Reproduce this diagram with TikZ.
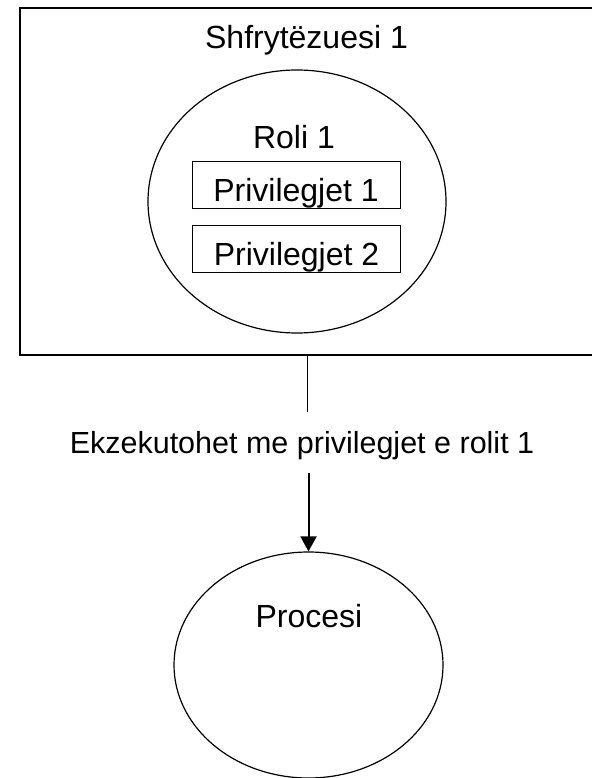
\documentclass[tikz,border=0pt]{standalone}
\usepackage{fontspec}
\setmainfont{Liberation Sans}
\usetikzlibrary{shapes.geometric,arrows.meta}

\begin{document}
\begin{tikzpicture}[x=1pt,y=-1pt,
  lbl/.style={font=\fontsize{32}{38}\selectfont, inner sep=0pt, anchor=base},
  privbox/.style={draw, line width=1pt, inner sep=0pt, anchor=north,
    minimum width=208pt, text height=40pt, text depth=7pt,
    font=\fontsize{32}{38}\selectfont},
  oval/.style={draw, ellipse, line width=1.2pt, inner sep=0pt},
  conn/.style={line width=1pt},
  arr/.style={line width=2pt, -{Triangle[width=16pt,length=15pt]}}]
  \useasboundingbox (0,0) rectangle (591,778);

  % user frame (right side runs past the page edge)
  \node[draw, line width=2pt, minimum width=575pt, minimum height=347pt,
        inner sep=0pt] (user) at (307.5,181.5) {};
  \node[lbl] (usertitle) at (306.5,49) {Shfrytëzuesi 1};

  % role with its privileges
  \node[oval, minimum width=298pt, minimum height=263pt] (role) at (297,201.5) {};
  \node[lbl] (roletitle) at (294,149) {Roli 1};
  \node[privbox] (priv1) at (296,161) {Privilegjet 1};
  \node[privbox] (priv2) at (296.5,225) {Privilegjet 2};

  % execution label between user and process
  \node[font=\fontsize{30.5}{36}\selectfont, inner sep=0pt,
        text height=41pt, text depth=20pt] (exec) at (302,442.7)
        {Ekzekutohet me privilegjet e rolit 1};

  % process
  \node[oval, minimum width=269pt, minimum height=226pt] (proc) at (308.5,665) {};
  \node[lbl] (proctitle) at (309,627) {Procesi};

  % connectors
  \draw[conn] (user.south) -- (user.south |- exec.north);
  \draw[arr] (proc.north |- exec.south) -- (proc.north);
\end{tikzpicture}
\end{document}
